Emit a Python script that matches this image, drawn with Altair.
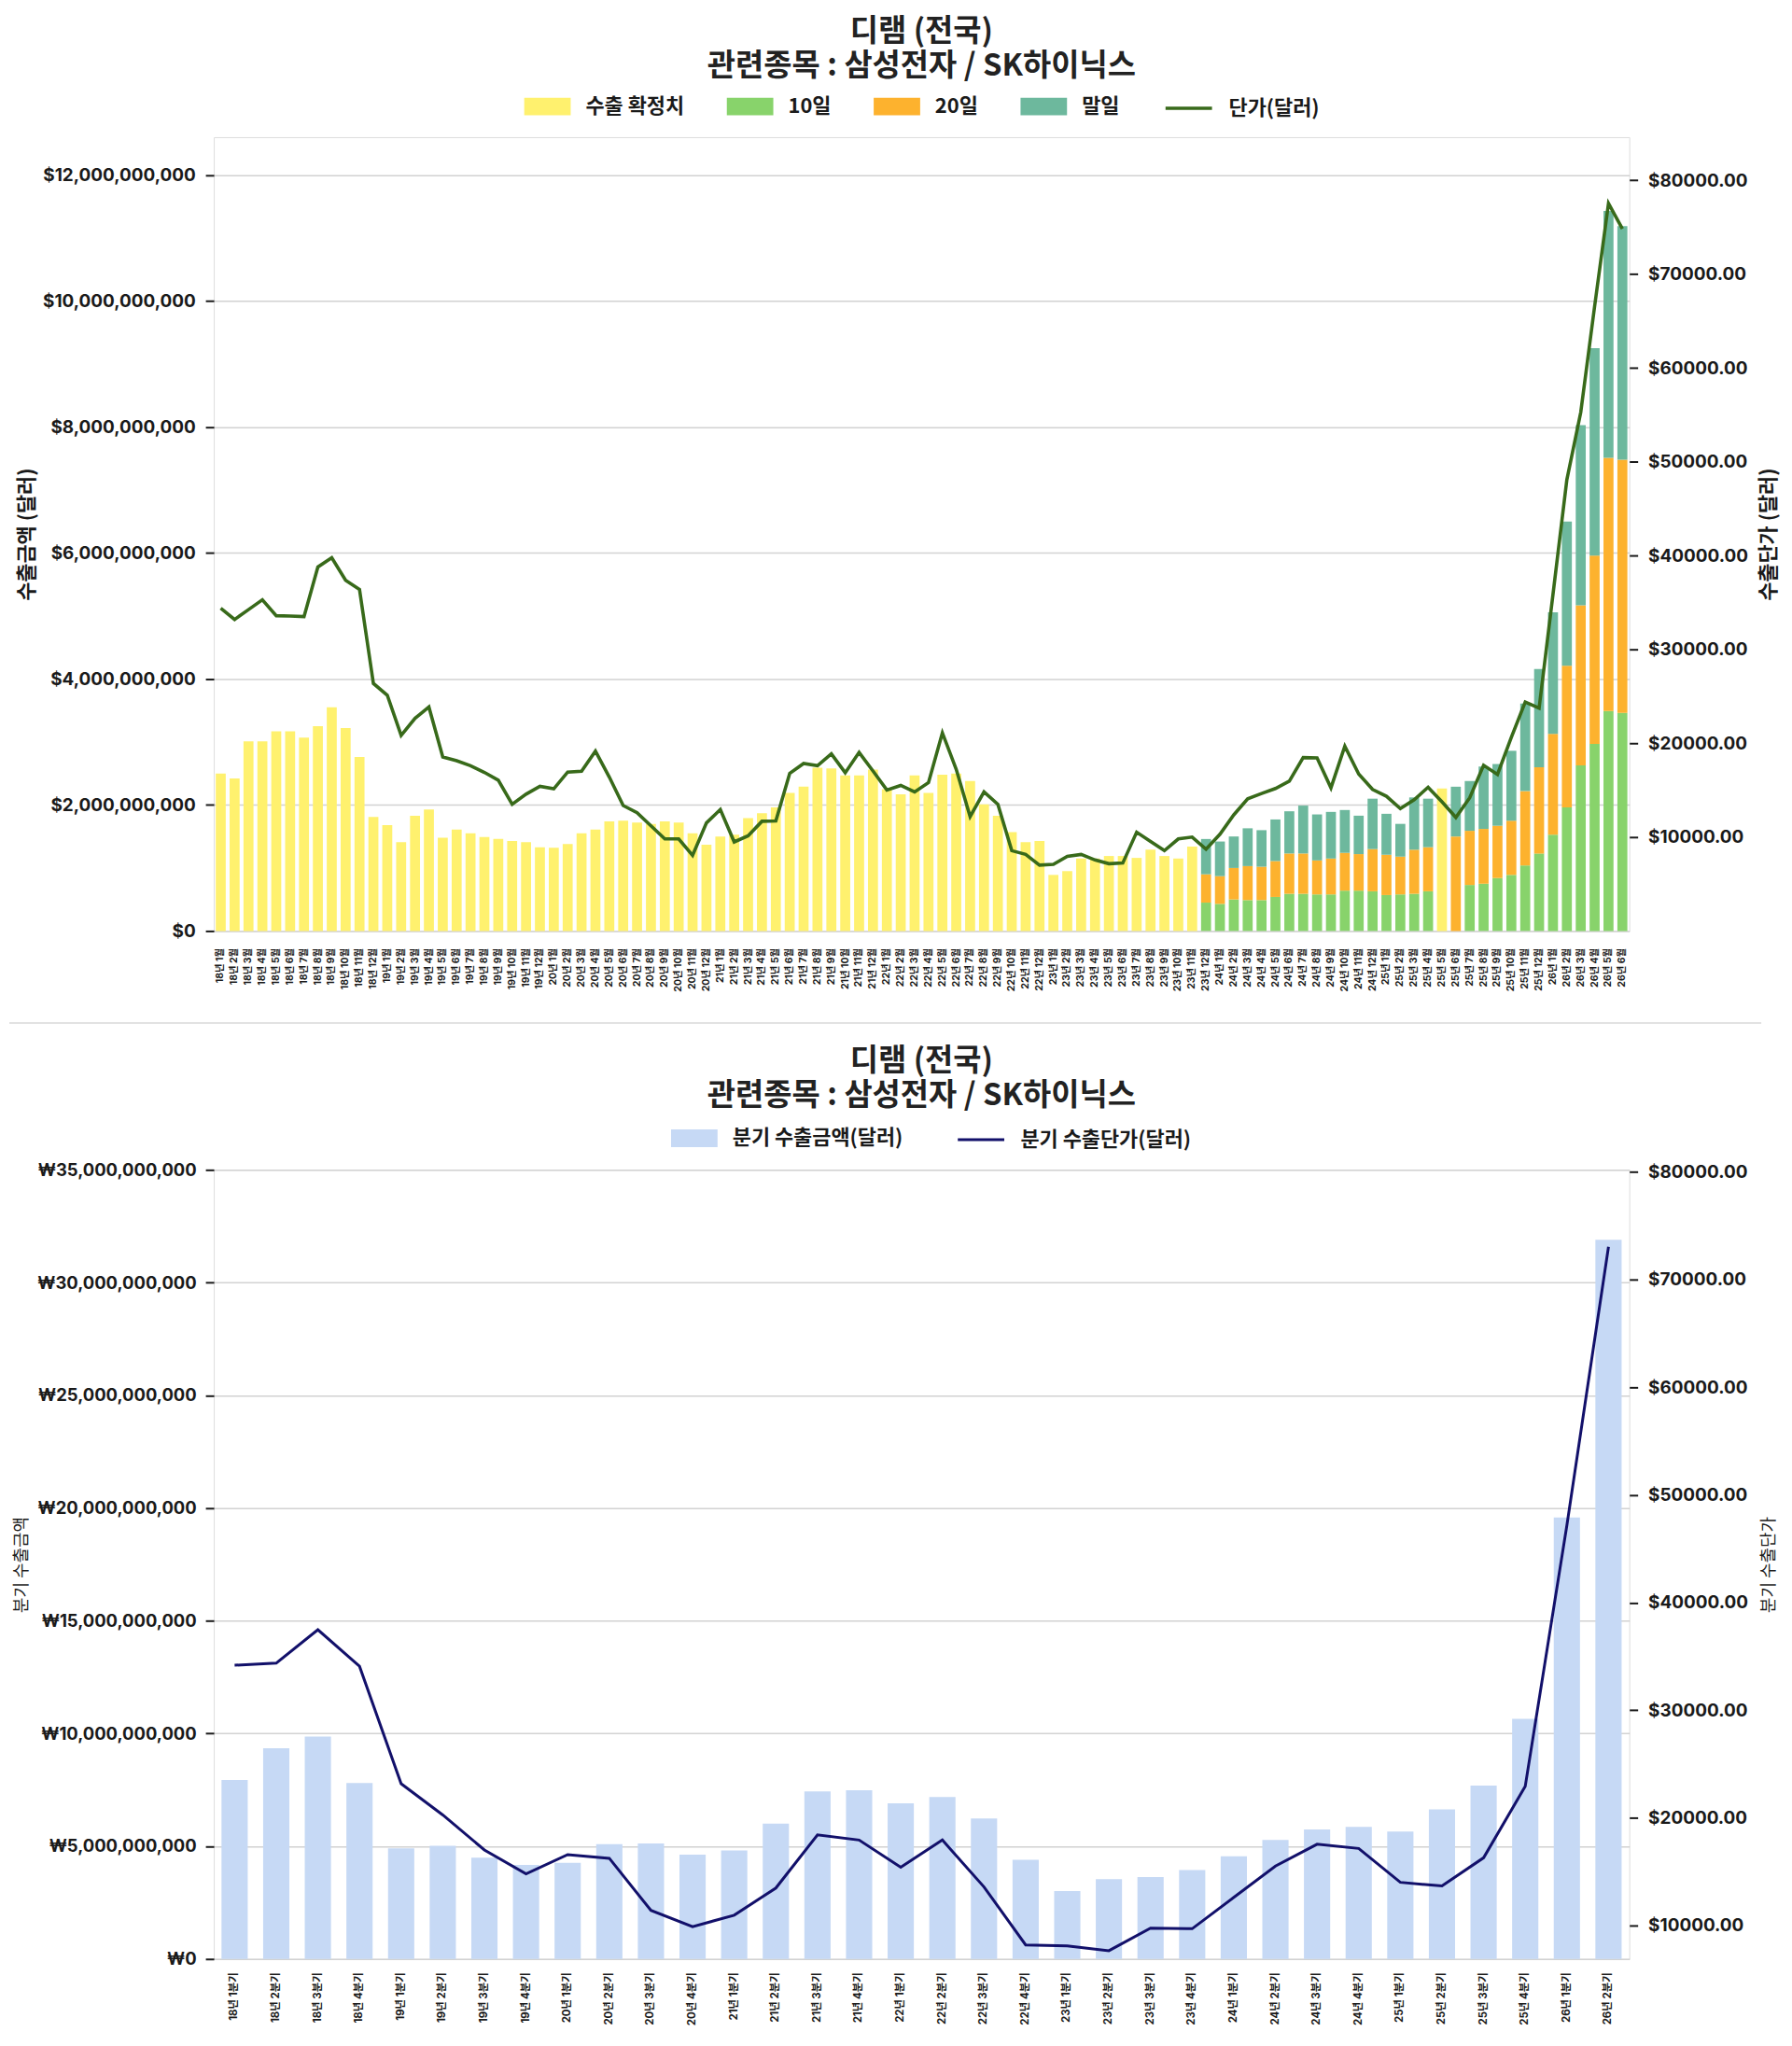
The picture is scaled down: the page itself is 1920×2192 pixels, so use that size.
import altair as alt
import pandas as pd

FONT = "Inter, 'Noto Sans CJK KR', sans-serif"
KFONT = "'Noto Sans CJK KR', Inter, sans-serif"

# ---------------- monthly data (top chart) ----------------
month_labels = [f"{y}년 {m}월" for y in range(18, 27) for m in range(1, 13)][:102]

# confirmed export amount (billion USD); None = preliminary month
confirmed = [
    2.50, 2.42, 3.01, 3.01, 3.17, 3.17, 3.07, 3.25, 3.55, 3.22, 2.76, 1.81,
    1.68, 1.41, 1.83, 1.93, 1.48, 1.61, 1.55, 1.49, 1.46, 1.43, 1.41, 1.33,
    1.32, 1.38, 1.55, 1.61, 1.74, 1.75, 1.72, 1.70, 1.74, 1.72, 1.55, 1.37,
    1.50, 1.53, 1.79, 1.87, 1.96, 2.19, 2.29, 2.59, 2.58, 2.47, 2.47, 2.56,
    2.25, 2.17, 2.47, 2.19, 2.48, 2.50, 2.38, 2.01, 1.83, 1.57, 1.41, 1.43,
    0.89, 0.95, 1.15, 1.15, 1.19, 1.19, 1.16, 1.29, 1.19, 1.15, 1.34, None,
    None, None, None, None, None, None, None, None, None, None, None, None,
    None, None, None, None, 2.26, None, None, None, None, None, None, None,
    None, None, None, None, None, None,
]
day10 = [None] * 71 + [
    0.45, 0.43, 0.50, 0.49, 0.49, 0.54, 0.59, 0.59, 0.58, 0.58, 0.64, 0.64,
    0.63, 0.57, 0.58, 0.59, 0.63, None, None, 0.73, 0.75, 0.84, 0.89, 1.04,
    1.23, 1.53, 1.96, 2.63, 2.97, 3.49, 3.46,
]
day20 = [None] * 71 + [
    0.45, 0.44, 0.50, 0.54, 0.53, 0.57, 0.64, 0.64, 0.54, 0.57, 0.60, 0.58,
    0.67, 0.64, 0.60, 0.70, 0.70, None, 1.50, 0.86, 0.87, 0.83, 0.86, 1.18,
    1.37, 1.60, 2.25, 2.54, 2.99, 4.02, 4.02,
]
day_end = [None] * 71 + [
    0.56, 0.55, 0.50, 0.60, 0.58, 0.66, 0.67, 0.76, 0.73, 0.74, 0.68, 0.61,
    0.80, 0.65, 0.52, 0.83, 0.77, None, 0.79, 0.79, 0.99, 0.98, 1.11, 1.39,
    1.56, 1.93, 2.29, 2.86, 3.29, 3.92, 3.71,
]
unit_price = [
    34400, 33200, 34250, 35300, 33600, 33560, 33500, 38790, 39780, 37380, 36390, 26380,
    25130, 20850, 22660, 23870, 18540, 18140, 17620, 16900, 16070, 13500, 14580, 15410,
    15150, 16930, 17030, 19170, 16400, 13370, 12610, 11200, 9810, 9810, 8060, 11520,
    12940, 9490, 10140, 11690, 11720, 16800, 17850, 17620, 18870, 16860, 19030, 17050,
    15020, 15510, 14820, 15810, 21110, 17220, 12180, 14820, 13500, 8560, 8160, 7020,
    7110, 7960, 8160, 7570, 7170, 7240, 10530, 9550, 8560, 9810, 10010, 8720,
    10310, 12380, 14090, 14650, 15180, 15970, 18480, 18440, 15250, 19690, 16730, 15080,
    14360, 13040, 13990, 15320, 13760, 12100, 14200, 17660, 16680, 20650, 24400, 23750,
    35870, 48100, 55270, 66580, 77550, 74840,
]

series_names = ["수출 확정치", "10일", "20일", "말일"]
series_colors = ["#fff16e", "#88d36b", "#fdb22e", "#6db89d"]
line_name = "단가(달러)"
line_color = "#386a1a"

# ---------------- quarterly data (bottom chart) ----------------
quarter_labels = [f"{y}년 {q}분기" for y in range(18, 27) for q in range(1, 5)][:34]
q_amount = [
    7.94, 9.35, 9.86, 7.80, 4.91, 5.02, 4.49, 4.17, 4.26, 5.09, 5.12, 4.63,
    4.81, 6.00, 7.43, 7.48, 6.90, 7.18, 6.23, 4.40, 3.01, 3.54, 3.63, 3.94,
    4.56, 5.28, 5.74, 5.86, 5.65, 6.64, 7.69, 10.65, 19.58, 31.90,
]
q_price = [
    34190, 34380, 37480, 34090, 23180, 20280, 17030, 14800, 16590, 16250, 11410, 9900,
    10970, 13490, 18430, 17950, 15430, 17950, 13590, 8210, 8110, 7670, 9760, 9710,
    12620, 15530, 17560, 17170, 14020, 13680, 16300, 22940, 47180, 73060,
]
q_bar_name = "분기 수출금액(달러)"
q_line_name = "분기 수출단가(달러)"
q_bar_color = "#c6d9f5"
q_line_color = "#12106a"

title_lines = ["디램 (전국)", "관련종목 : 삼성전자 / SK하이닉스"]

# ---------------- build tables ----------------
rows = []
for i, lab in enumerate(month_labels):
    for k, arr in enumerate([confirmed, day10, day20, day_end]):
        v = arr[i]
        if v is not None:
            rows.append({"month": lab, "series": series_names[k], "k": k, "value": v * 1e9})
df_bar = pd.DataFrame(rows)
df_line = pd.DataFrame({"month": month_labels, "price": unit_price, "s": line_name})

df_q = pd.DataFrame({"q": quarter_labels, "amount": [v * 1e9 for v in q_amount],
                     "price": q_price, "sb": q_bar_name, "sl": q_line_name})

RECT = "M-1,-0.38H1V0.38H-1Z"
TXT = "#1a1a1a"

def legend_common(x, y, size, font_size):
    return dict(orient="none", legendX=x, legendY=y, direction="horizontal", title=None,
                symbolSize=size, labelFontSize=font_size, labelFontWeight="bold",
                labelFont=KFONT, labelColor=TXT, labelLimit=500, columnPadding=45,
                labelOffset=16, symbolOpacity=1)

def title_params(offset):
    return alt.TitleParams(text=title_lines, fontSize=33, fontWeight="bold", font=KFONT,
                           color="#222222", lineHeight=37, anchor="middle", frame="group",
                           offset=offset)

# ---------------- top chart ----------------
W, H1, H2 = 1523, 854, 849

x_top = alt.X("month:N", sort=month_labels,
              scale=alt.Scale(paddingInner=0.28, paddingOuter=0.14),
              axis=alt.Axis(title=None, labelAngle=-90, labelFontSize=10.5,
                            labelFontWeight="bold", ticks=False, labelPadding=18,
                            domain=False, grid=False, labelColor=TXT, labelFont=FONT))

bars = alt.Chart(df_bar).mark_bar().encode(
    x=x_top,
    y=alt.Y("value:Q", stack="zero",
            scale=alt.Scale(domain=[0, 12.6e9], nice=False),
            axis=alt.Axis(title="수출금액 (달러)", format="$,.0f",
                          values=[0, 2e9, 4e9, 6e9, 8e9, 10e9, 12e9],
                          labelFontSize=19, labelFontWeight="bold", labelFont=FONT,
                          labelColor=TXT, tickSize=9, tickWidth=2, tickColor=TXT,
                          labelPadding=11, domain=False, grid=True, gridColor="#d2d2d2",
                          gridWidth=1.5, titleFontSize=22, titleFont=KFONT,
                          titleFontWeight="bold", titleColor=TXT, titlePadding=5)),
    color=alt.Color("series:N", scale=alt.Scale(domain=series_names, range=series_colors),
                    legend=alt.Legend(symbolType=RECT, symbolStrokeWidth=0,
                                      **legend_common(334, -58, 2500, 22))),
    order=alt.Order("k:Q"),
)

line = alt.Chart(df_line).mark_line(strokeWidth=3.6).encode(
    x=alt.X("month:N", sort=month_labels),
    y=alt.Y("price:Q", scale=alt.Scale(domain=[0, 84600], nice=False),
            axis=alt.Axis(orient="right", title="수출단가 (달러)", format="$.2f",
                          values=[10000, 20000, 30000, 40000, 50000, 60000, 70000, 80000],
                          labelFontSize=19, labelFontWeight="bold", labelFont=FONT,
                          labelColor=TXT, tickSize=9, tickWidth=2, tickColor=TXT,
                          labelPadding=11, domain=False, grid=False,
                          titleFontSize=22, titleFont=KFONT, titleFontWeight="bold",
                          titleColor=TXT, titleAngle=270, titleBaseline="top",
                          titlePadding=12)),
    stroke=alt.Stroke("s:N", scale=alt.Scale(domain=[line_name], range=[line_color]),
                      legend=alt.Legend(symbolType="stroke", symbolStrokeWidth=3.5,
                                        **legend_common(1022, -58, 2500, 22))),
)

# thin grey divider between the two figures
divider = alt.Chart(pd.DataFrame({"d": [0]})).mark_rule(
    color="#e2e2e2", strokeWidth=2).encode(
    x=alt.value(-220), x2=alt.value(1665), y=alt.value(953))

top = alt.layer(bars, line, divider).resolve_scale(
    y="independent", color="independent", stroke="independent").properties(
    width=W, height=H1, title=title_params(1))

# ---------------- bottom chart ----------------
x_bot = alt.X("q:N", sort=quarter_labels,
              scale=alt.Scale(paddingInner=0.37, paddingOuter=0.185),
              axis=alt.Axis(title=None, labelAngle=-90, labelFontSize=11.5,
                            labelFontWeight="bold", ticks=False, labelPadding=14,
                            domain=False, grid=False, labelColor=TXT, labelFont=FONT))

qbars = alt.Chart(df_q).mark_bar().encode(
    x=x_bot,
    y=alt.Y("amount:Q", scale=alt.Scale(domain=[0, 35e9], nice=False),
            axis=alt.Axis(title="분기 수출금액",
                          labelExpr="'₩' + format(datum.value, ',.0f')",
                          values=[0, 5e9, 10e9, 15e9, 20e9, 25e9, 30e9, 35e9],
                          labelFontSize=18.5, labelFontWeight="bold", labelFont=FONT,
                          labelColor=TXT, tickSize=9, tickWidth=2, tickColor=TXT,
                          labelPadding=10, domain=False, grid=True, gridColor="#d2d2d2",
                          gridWidth=1.5, titleFontSize=18, titleFont=KFONT,
                          titleFontWeight="normal", titleColor=TXT, titlePadding=7)),
    color=alt.Color("sb:N", scale=alt.Scale(domain=[q_bar_name], range=[q_bar_color]),
                    legend=alt.Legend(symbolType=RECT, symbolStrokeWidth=0,
                                      **legend_common(492, -59, 2500, 22))),
)

qline = alt.Chart(df_q).mark_line(strokeWidth=3).encode(
    x=alt.X("q:N", sort=quarter_labels),
    y=alt.Y("price:Q", scale=alt.Scale(domain=[6900, 80200], nice=False),
            axis=alt.Axis(orient="right", title="분기 수출단가", format="$.2f",
                          values=[10000, 20000, 30000, 40000, 50000, 60000, 70000, 80000],
                          labelFontSize=19, labelFontWeight="bold", labelFont=FONT,
                          labelColor=TXT, tickSize=9, tickWidth=2, tickColor=TXT,
                          labelPadding=11, domain=False, grid=False,
                          titleFontSize=18, titleFont=KFONT, titleFontWeight="normal",
                          titleColor=TXT, titleAngle=270, titleBaseline="top",
                          titlePadding=14)),
    stroke=alt.Stroke("sl:N", scale=alt.Scale(domain=[q_line_name], range=[q_line_color]),
                      legend=alt.Legend(symbolType="stroke", symbolStrokeWidth=3,
                                        **legend_common(799, -59, 2500, 22))),
)

bottom = alt.layer(qbars, qline).resolve_scale(
    y="independent", color="independent", stroke="independent").properties(
    width=W, height=H2, title=title_params(4))

chart = alt.vconcat(top, bottom, spacing=22).properties(
    padding={"left": 0, "top": 5, "right": 6, "bottom": 4},
).configure_view(stroke="#c4c4c4", strokeWidth=2).configure(background="white")

chart.save("out.html", embed_options={"renderer": "svg", "actions": False})
